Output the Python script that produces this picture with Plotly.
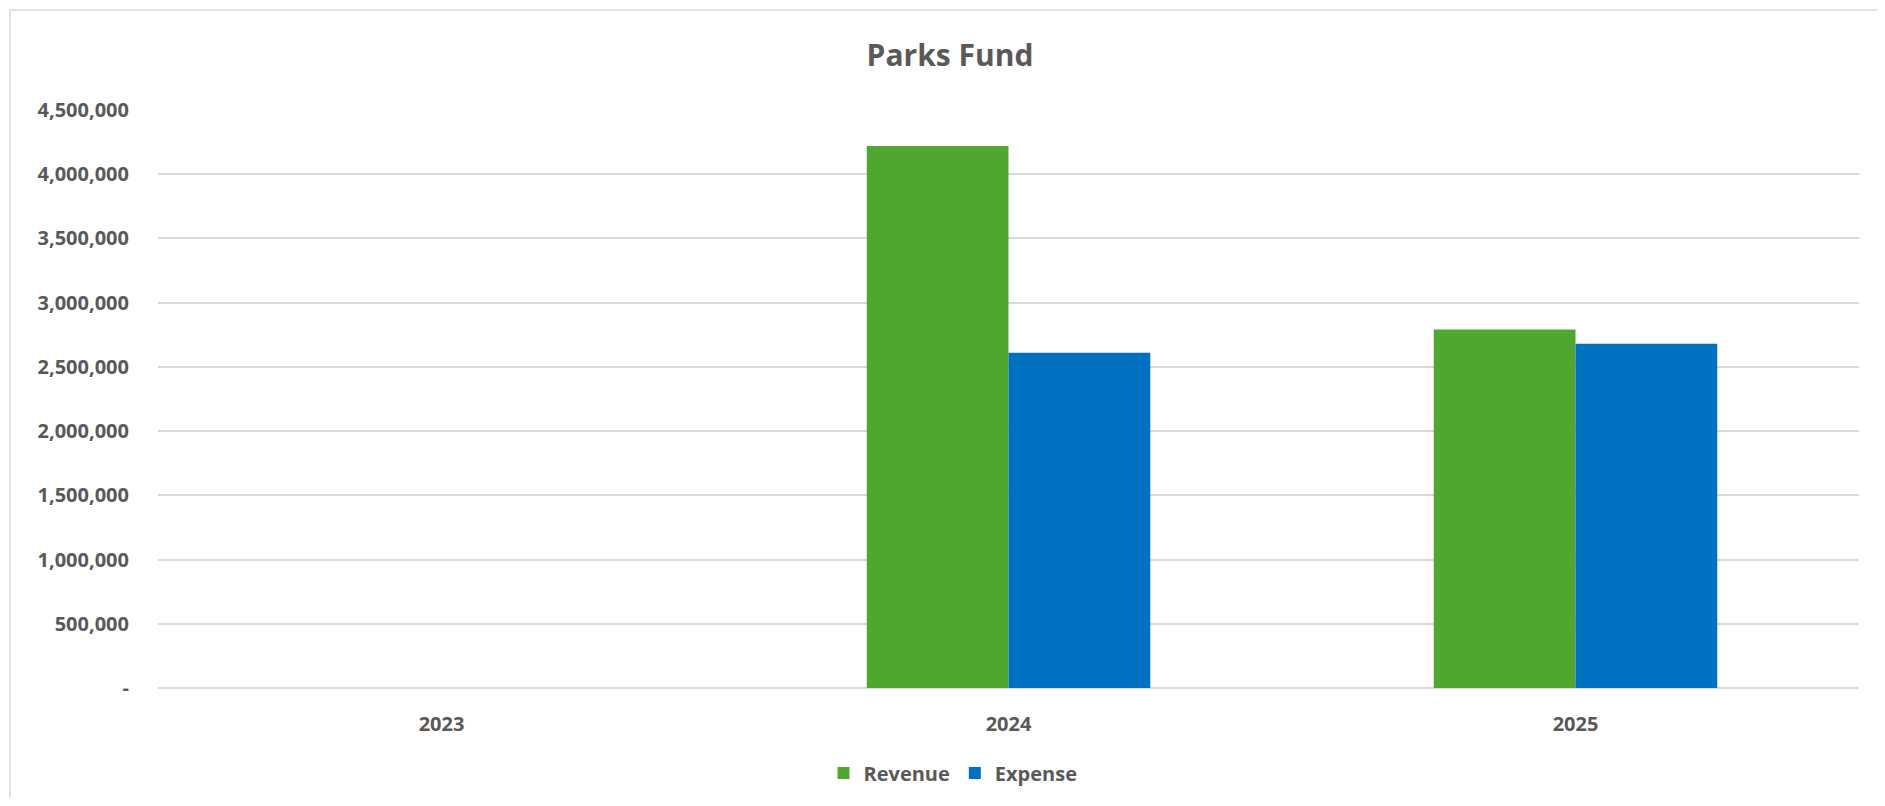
import plotly.graph_objects as go

years = ["2023", "2024", "2025"]
revenue = [0, 4220000, 2792000]
expense = [0, 2610000, 2680000]
ytick_vals = [0, 500000, 1000000, 1500000, 2000000, 2500000, 3000000, 3500000, 4000000, 4500000]
ytick_text = ["-", "500,000", "1,000,000", "1,500,000", "2,000,000", "2,500,000",
              "3,000,000", "3,500,000", "4,000,000", "4,500,000"]

FONT = "Open Sans"
TXT = "#595959"
GRID = "#d9d9d9"

W, H = 1869, 790
L, R, T, B = 150, 18, 102, 110
PW = W - L - R
PH = H - T - B

fig = go.Figure()
fig.add_trace(go.Bar(name="Revenue", x=years, y=revenue,
                     marker=dict(color="#4EA72E", line=dict(width=0))))
fig.add_trace(go.Bar(name="Expense", x=years, y=expense,
                     marker=dict(color="#0070C0", line=dict(width=0))))

fig.update_layout(
    width=W, height=H,
    paper_bgcolor="white", plot_bgcolor="white",
    margin=dict(l=L, r=R, t=T, b=B, autoexpand=False),
    barmode="group", bargap=0.5, bargroupgap=0,
    title=dict(text="Parks Fund", x=942 / W, xanchor="center", y=1 - 47 / H, yanchor="middle",
               font=dict(family=FONT, size=30, color=TXT, weight="bold")),
    legend=dict(orientation="h", xref="container", yref="container",
                x=945 / W, xanchor="center",
                y=1 - 765 / H, yanchor="middle",
                font=dict(family=FONT, size=20, color=TXT, weight="bold"),
                itemwidth=30, traceorder="normal"),
    xaxis=dict(showgrid=False, showline=False, zeroline=False, ticks="",
               ticklabelstandoff=22,
               tickfont=dict(family=FONT, size=20, color=TXT, weight="bold")),
    yaxis=dict(range=[0, 4500000], tickvals=ytick_vals, ticktext=ytick_text,
               showgrid=True, gridcolor=GRID, gridwidth=1.5,
               zeroline=True, zerolinecolor=GRID, zerolinewidth=1.5,
               showline=False, ticks="", ticklabelstandoff=28,
               tickfont=dict(family=FONT, size=20, color=TXT, weight="bold")),
    shapes=[dict(type="rect", xref="paper", yref="paper",
                 x0=(2 - L) / PW, x1=1.2, y0=-0.5, y1=(T + PH - 2) / PH,
                 line=dict(color="#d9d9d9", width=1.5), fillcolor="rgba(0,0,0,0)", layer="below")],
)

fig.write_html("out.html")
